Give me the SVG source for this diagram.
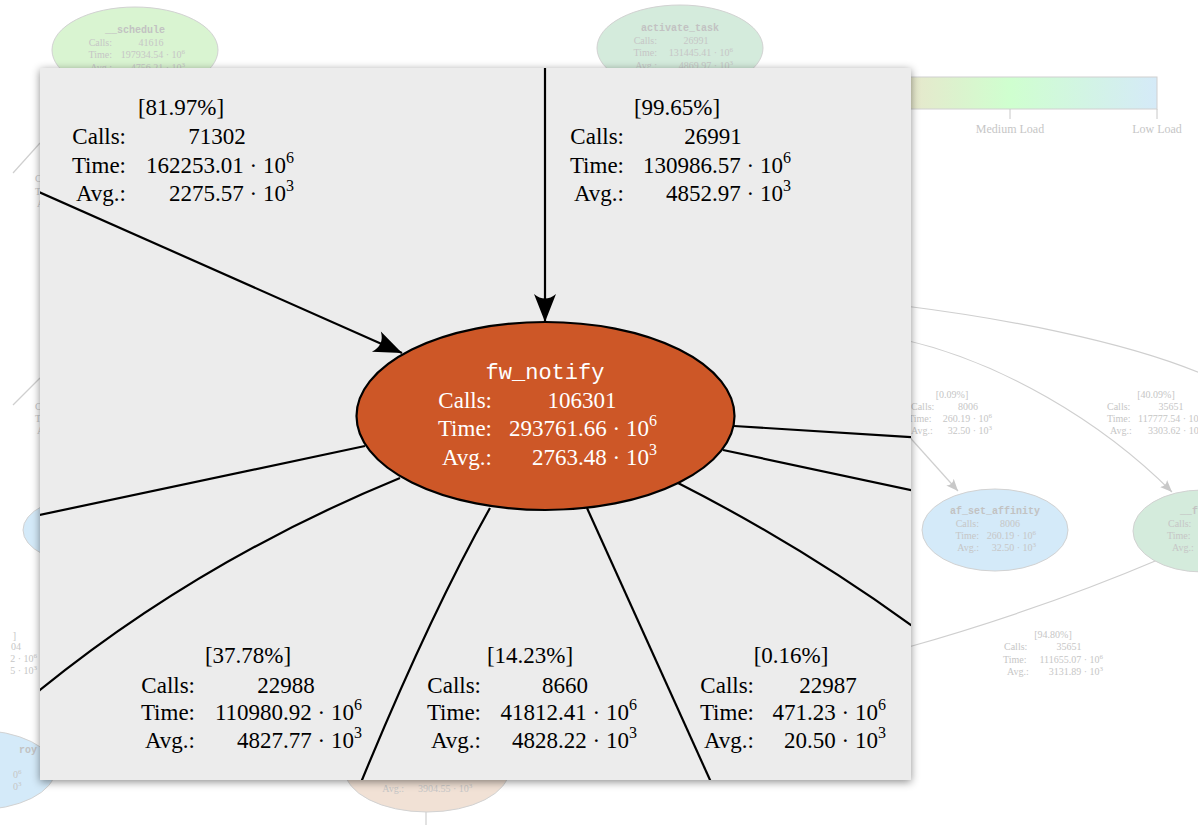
<svg xmlns="http://www.w3.org/2000/svg" width="1198" height="825" viewBox="0 0 1198 825">
<style>
.bgt{font-family:"Liberation Serif","Times New Roman",serif;font-size:10px;fill:#c6c6c6}
.bgm{font-family:"Liberation Mono","Courier New",monospace;font-size:10px;fill:#c2c2c2;font-weight:bold}
.bge{fill:none;stroke:#cfcfcf;stroke-width:1.2}
.bgn{stroke:#d2d2d2;stroke-width:1}
.pt{font-family:"Liberation Serif","Times New Roman",serif;font-size:23px;fill:#000}
.wt{font-family:"Liberation Serif","Times New Roman",serif;font-size:23px;fill:#fff}
.mono{font-family:"Liberation Mono","Courier New",monospace;font-size:22px;fill:#fff}
.e{fill:none;stroke:#000;stroke-width:2.2}
.lg{font-family:"Liberation Serif","Times New Roman",serif;font-size:12px;fill:#c6c6c6}
</style>
<defs>
<marker id="ah" viewBox="-29 -12 30 24" refX="0" refY="0" markerWidth="30" markerHeight="24" markerUnits="userSpaceOnUse" orient="auto"><path d="M0,0 L-28,-11 Q-19,0 -28,11 Z" fill="#000"/></marker>
<marker id="gah" viewBox="-12 -6 13 12" refX="0" refY="0" markerWidth="13" markerHeight="12" markerUnits="userSpaceOnUse" orient="auto"><path d="M0,0 L-12,-5 Q-8,0 -12,5 Z" fill="#c8c8c8"/></marker>
<linearGradient id="load" gradientUnits="userSpaceOnUse" x1="863" y1="0" x2="1157" y2="0">
<stop offset="0" stop-color="#f2dccb"/><stop offset="0.5" stop-color="#cfffcf"/><stop offset="1" stop-color="#d5eaf8"/>
</linearGradient>
<filter id="shadow" x="-5%" y="-5%" width="110%" height="110%"><feDropShadow dx="0" dy="2" stdDeviation="4" flood-color="#000" flood-opacity="0.45"/></filter>
<clipPath id="pclip"><rect x="40" y="68" width="871" height="712"/></clipPath>
</defs>
<rect width="1198" height="825" fill="#fff"/>

<g id="background">
<g id="bg-connectors">
<path class="bge" d="M13,173 L40,143"/>
<path class="bge" d="M13,405 L40,378"/>
<path class="bge" d="M905,306 C1000,318 1120,340 1200,373"/>
<path class="bge" d="M905,340 C1000,362 1100,420 1172,492" marker-end="url(#gah)"/>
<path class="bge" d="M905,432 L958,491" marker-end="url(#gah)"/>
<path class="bge" d="M1160,559 Q1040,610 905,648"/>
<path class="bge" d="M426,812 L426,825"/>
</g>
<g id="legend">
<rect x="863" y="77" width="294" height="32" fill="url(#load)" stroke="#d0d0d0" stroke-width="1"/>
<path d="M1010,109 V119 M1157,109 V119" stroke="#c8c8c8" stroke-width="1"/>
<text class="lg" x="1010" y="133" text-anchor="middle">Medium Load</text>
<text class="lg" x="1157" y="133" text-anchor="middle">Low Load</text>
</g>
<g id="bg-node-schedule">
<ellipse class="bgn" cx="135" cy="50" rx="83" ry="43" fill="#d9f4d1"/>
<text class="bgm" x="135" y="33" text-anchor="middle">__schedule</text>
<text class="bgt" x="112" y="46" text-anchor="end">Calls:</text><text class="bgt" x="151" y="46" text-anchor="middle">41616</text>
<text class="bgt" x="112" y="58" text-anchor="end">Time:</text><text class="bgt" x="185" y="58" text-anchor="end">197934.54 · 10<tspan dy="-4" font-size="7">6</tspan></text>
<text class="bgt" x="112" y="71" text-anchor="end">Avg.:</text><text class="bgt" x="185" y="71" text-anchor="end">4756.21 · 10<tspan dy="-4" font-size="7">3</tspan></text>
</g>
<g id="bg-node-activate_task">
<ellipse class="bgn" cx="680" cy="48" rx="83" ry="43" fill="#d4ebdc"/>
<text class="bgm" x="680" y="31" text-anchor="middle">activate_task</text>
<text class="bgt" x="657" y="44" text-anchor="end">Calls:</text><text class="bgt" x="696" y="44" text-anchor="middle">26991</text>
<text class="bgt" x="657" y="56" text-anchor="end">Time:</text><text class="bgt" x="733" y="56" text-anchor="end">131445.41 · 10<tspan dy="-4" font-size="7">6</tspan></text>
<text class="bgt" x="657" y="69" text-anchor="end">Avg.:</text><text class="bgt" x="733" y="69" text-anchor="end">4869.97 · 10<tspan dy="-4" font-size="7">3</tspan></text>
</g>
<g id="bg-node-af_set_affinity">
<ellipse class="bgn" cx="995" cy="530" rx="73" ry="41" fill="#d4eaf9"/>
<text class="bgm" x="995" y="514" text-anchor="middle">af_set_affinity</text>
<text class="bgt" x="979" y="527" text-anchor="end">Calls:</text><text class="bgt" x="1010" y="527" text-anchor="middle">8006</text>
<text class="bgt" x="979" y="539" text-anchor="end">Time:</text><text class="bgt" x="1036" y="539" text-anchor="end">260.19 · 10<tspan dy="-4" font-size="7">6</tspan></text>
<text class="bgt" x="979" y="551" text-anchor="end">Avg.:</text><text class="bgt" x="1036" y="551" text-anchor="end">32.50 · 10<tspan dy="-4" font-size="7">3</tspan></text>
</g>
<g id="bg-node-fu">
<ellipse class="bgn" cx="1202" cy="531" rx="69" ry="41" fill="#d4ebdc"/>
<text class="bgm" x="1180" y="514">__fu</text>
<text class="bgt" x="1168" y="527">Calls:</text>
<text class="bgt" x="1167" y="539">Time:</text>
<text class="bgt" x="1172" y="551">Avg.:</text>
</g>
<g id="bg-node-left">
<ellipse class="bgn" cx="90" cy="530" rx="67" ry="34" fill="#d4eaf9"/>
</g>
<g id="bg-node-bottom-left">
<ellipse class="bgn" cx="-25" cy="770" rx="80" ry="40" fill="#d4eaf9"/>
<text class="bgm" x="37" y="753" text-anchor="end">roy</text>
<text class="bgt" x="13" y="778">0<tspan dy="-4" font-size="7">6</tspan></text>
<text class="bgt" x="13" y="790">0<tspan dy="-4" font-size="7">3</tspan></text>
</g>
<g id="bg-node-bottom">
<ellipse class="bgn" cx="427" cy="770" rx="82" ry="42" fill="#f1e1d5"/>
<text class="bgt" x="404" y="792" text-anchor="end">Avg.:</text><text class="bgt" x="418" y="792">3904.55 · 10<tspan dy="-4" font-size="7">3</tspan></text>
</g>
<g id="bg-labels">
<text class="bgt" x="35" y="182">C</text><text class="bgt" x="35" y="195">T</text><text class="bgt" x="37" y="207">A</text>
<text class="bgt" x="35" y="410">C</text><text class="bgt" x="35" y="422">T</text><text class="bgt" x="37" y="434">A</text>
<text class="bgt" x="16" y="639" text-anchor="end">]</text>
<text class="bgt" x="21" y="650" text-anchor="end">04</text>
<text class="bgt" x="37" y="662" text-anchor="end">2 · 10<tspan dy="-4" font-size="7">6</tspan></text>
<text class="bgt" x="37" y="674" text-anchor="end">5 · 10<tspan dy="-4" font-size="7">3</tspan></text>
<text class="bgt" x="952" y="398" text-anchor="middle" font-size="11">[0.09%]</text>
<text class="bgt" x="911" y="410">Calls:</text><text class="bgt" x="968" y="410" text-anchor="middle">8006</text>
<text class="bgt" x="908" y="422">Time:</text><text class="bgt" x="992" y="422" text-anchor="end">260.19 · 10<tspan dy="-4" font-size="7">6</tspan></text>
<text class="bgt" x="911" y="434">Avg.:</text><text class="bgt" x="992" y="434" text-anchor="end">32.50 · 10<tspan dy="-4" font-size="7">3</tspan></text>
<text class="bgt" x="1156" y="398" text-anchor="middle" font-size="11">[40.09%]</text>
<text class="bgt" x="1107" y="410">Calls:</text><text class="bgt" x="1171" y="410" text-anchor="middle">35651</text>
<text class="bgt" x="1107" y="422">Time:</text><text class="bgt" x="1138" y="422">117777.54 · 10<tspan dy="-4" font-size="7">6</tspan></text>
<text class="bgt" x="1110" y="434">Avg.:</text><text class="bgt" x="1148" y="434">3303.62 · 10<tspan dy="-4" font-size="7">3</tspan></text>
<text class="bgt" x="1053" y="638" text-anchor="middle" font-size="11">[94.80%]</text>
<text class="bgt" x="1004" y="650">Calls:</text><text class="bgt" x="1069" y="650" text-anchor="middle">35651</text>
<text class="bgt" x="1003" y="663">Time:</text><text class="bgt" x="1103" y="663" text-anchor="end">111655.07 · 10<tspan dy="-4" font-size="7">6</tspan></text>
<text class="bgt" x="1007" y="675">Avg.:</text><text class="bgt" x="1103" y="675" text-anchor="end">3131.89 · 10<tspan dy="-4" font-size="7">3</tspan></text>
</g>
</g>

<g id="panel">
<rect x="40" y="68" width="871" height="712" fill="#ececec" filter="url(#shadow)"/>
<g clip-path="url(#pclip)">
<g id="connectors">
<path class="e" d="M545,60 L545,322" marker-end="url(#ah)"/>
<path class="e" d="M30,188 L402,353" marker-end="url(#ah)"/>
<path class="e" d="M365,446 L30,517"/>
<path class="e" d="M400,478 Q200,560 40,690 L30,698"/>
<path class="e" d="M490,508 Q430,615 362,780 L358,790"/>
<path class="e" d="M587,508 L715,791"/>
<path class="e" d="M678,483 Q800,545 911,625 L925,635"/>
<path class="e" d="M734,426 L925,438"/>
<path class="e" d="M723,450 L925,493"/>
</g>
<g id="node-fw_notify">
<ellipse cx="545.5" cy="416" rx="189" ry="94" fill="#cd5727" stroke="#000" stroke-width="2.2"/>
<text class="mono" x="545" y="379" text-anchor="middle">fw_notify</text>
<text class="wt" x="492" y="408" text-anchor="end">Calls:</text><text class="wt" x="582" y="408" text-anchor="middle">106301</text>
<text class="wt" x="492" y="436" text-anchor="end">Time:</text><text class="wt" x="657" y="436" text-anchor="end">293761.66 · 10<tspan dy="-10" font-size="16">6</tspan></text>
<text class="wt" x="492" y="465" text-anchor="end">Avg.:</text><text class="wt" x="657" y="465" text-anchor="end">2763.48 · 10<tspan dy="-10" font-size="16">3</tspan></text>
</g>
<g id="label-81">
<text class="pt" x="181" y="115" text-anchor="middle">[81.97%]</text>
<text class="pt" x="126" y="144" text-anchor="end">Calls:</text><text class="pt" x="217" y="144" text-anchor="middle">71302</text>
<text class="pt" x="126" y="173" text-anchor="end">Time:</text><text class="pt" x="294" y="173" text-anchor="end">162253.01 · 10<tspan dy="-10" font-size="16">6</tspan></text>
<text class="pt" x="126" y="201" text-anchor="end">Avg.:</text><text class="pt" x="294" y="201" text-anchor="end">2275.57 · 10<tspan dy="-10" font-size="16">3</tspan></text>
</g>
<g id="label-99">
<text class="pt" x="677" y="115" text-anchor="middle">[99.65%]</text>
<text class="pt" x="624" y="144" text-anchor="end">Calls:</text><text class="pt" x="713" y="144" text-anchor="middle">26991</text>
<text class="pt" x="624" y="173" text-anchor="end">Time:</text><text class="pt" x="791" y="173" text-anchor="end">130986.57 · 10<tspan dy="-10" font-size="16">6</tspan></text>
<text class="pt" x="624" y="201" text-anchor="end">Avg.:</text><text class="pt" x="791" y="201" text-anchor="end">4852.97 · 10<tspan dy="-10" font-size="16">3</tspan></text>
</g>
<g id="label-37">
<text class="pt" x="248" y="663" text-anchor="middle">[37.78%]</text>
<text class="pt" x="195" y="693" text-anchor="end">Calls:</text><text class="pt" x="286" y="693" text-anchor="middle">22988</text>
<text class="pt" x="195" y="720" text-anchor="end">Time:</text><text class="pt" x="362" y="720" text-anchor="end">110980.92 · 10<tspan dy="-10" font-size="16">6</tspan></text>
<text class="pt" x="195" y="748" text-anchor="end">Avg.:</text><text class="pt" x="362" y="748" text-anchor="end">4827.77 · 10<tspan dy="-10" font-size="16">3</tspan></text>
</g>
<g id="label-14">
<text class="pt" x="530" y="663" text-anchor="middle">[14.23%]</text>
<text class="pt" x="481" y="693" text-anchor="end">Calls:</text><text class="pt" x="565" y="693" text-anchor="middle">8660</text>
<text class="pt" x="481" y="720" text-anchor="end">Time:</text><text class="pt" x="637" y="720" text-anchor="end">41812.41 · 10<tspan dy="-10" font-size="16">6</tspan></text>
<text class="pt" x="481" y="748" text-anchor="end">Avg.:</text><text class="pt" x="637" y="748" text-anchor="end">4828.22 · 10<tspan dy="-10" font-size="16">3</tspan></text>
</g>
<g id="label-0">
<text class="pt" x="791" y="663" text-anchor="middle">[0.16%]</text>
<text class="pt" x="754" y="693" text-anchor="end">Calls:</text><text class="pt" x="828" y="693" text-anchor="middle">22987</text>
<text class="pt" x="754" y="720" text-anchor="end">Time:</text><text class="pt" x="886" y="720" text-anchor="end">471.23 · 10<tspan dy="-10" font-size="16">6</tspan></text>
<text class="pt" x="754" y="748" text-anchor="end">Avg.:</text><text class="pt" x="886" y="748" text-anchor="end">20.50 · 10<tspan dy="-10" font-size="16">3</tspan></text>
</g>
</g>
</g>
</svg>
